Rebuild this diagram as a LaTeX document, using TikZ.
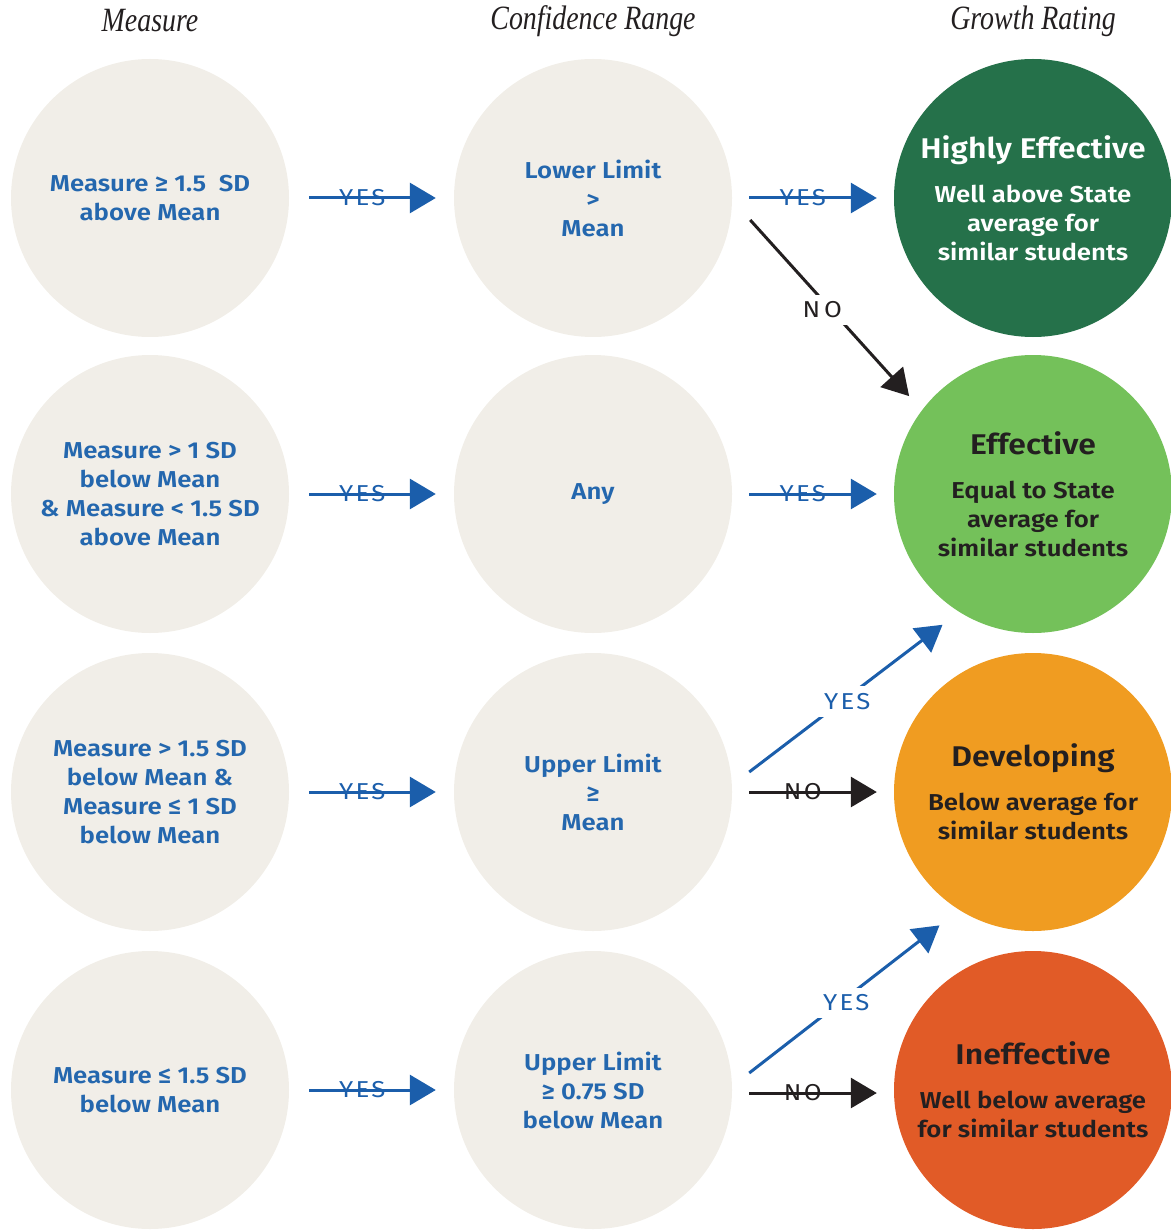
\documentclass[tikz,border=0pt]{standalone}
\usepackage{fontspec}
\usepackage{xcolor}
\usetikzlibrary{arrows.meta}
\setsansfont{Fira Sans}[BoldFont={Fira Sans SemiBold}, FakeStretch=1.12]
\newfontfamily\headfont{Liberation Serif}[FakeStretch=0.82]
\definecolor{RateBeige}{HTML}{F1EEE8}
\definecolor{RateBlue}{HTML}{2467AE}
\definecolor{ArrowBlue}{HTML}{1B5EAB}
\definecolor{RateBlack}{HTML}{231F20}
\definecolor{HighGreen}{HTML}{25714A}
\definecolor{EffGreen}{HTML}{74C15A}
\definecolor{DevOrange}{HTML}{F09C21}
\definecolor{IneffRed}{HTML}{E15B27}

\tikzset{
  heading/.style={font=\headfont\itshape\fontsize{34}{34}\selectfont, text=RateBlack},
  measure/.style={circle, fill=RateBeige, minimum size=278pt, inner sep=0pt, align=center,
    text=RateBlue, font=\sffamily\bfseries\fontsize{23}{29}\selectfont},
  rating/.style={circle, minimum size=278pt, inner sep=0pt, align=center,
    text=RateBlack, font=\sffamily\bfseries\fontsize{23}{29}\selectfont},
  yesarrow/.style={ArrowBlue, line width=3pt, -{Triangle[length=26pt,width=30pt]}},
  noarrow/.style={RateBlack, line width=3pt, -{Triangle[length=26pt,width=30pt]}},
  choice/.style={font=\sffamily\fontsize{23}{23}\selectfont\addfontfeatures{LetterSpace=10}, inner sep=1pt},
}
\newcommand{\ratingtitle}[1]{{\fontsize{28.5}{34}\selectfont #1}\\[15pt]}

\begin{document}
\begin{tikzpicture}[x=1pt, y=1pt]
    \useasboundingbox (0,0) rectangle (1170,-1230);
    % column headings
    \node[heading] (hmeasure) at (150,-21) {Measure};
    \node[heading] (hrange) at (593,-21) {Confidence Range};
    \node[heading] (hrating) at (1033,-21) {Growth Rating};

    % measure column
    \node[measure] (m1) at (150,-198) {Measure ≥ 1.5\ \ SD\\above Mean};
    \node[measure] (m2) at (150,-494) {Measure > 1 SD\\below Mean\\\& Measure < 1.5 SD\\above Mean};
    \node[measure] (m3) at (150,-792) {Measure > 1.5 SD\\below Mean \&\\Measure ≤ 1 SD\\below Mean};
    \node[measure] (m4) at (150,-1090) {Measure ≤ 1.5 SD\\below Mean};

    % confidence range column
    \node[measure] (c1) at (593,-198) {Lower Limit\\>\\Mean};
    \node[measure] (c2) at (593,-494) {Any};
    \node[measure] (c3) at (593,-792) {Upper Limit\\≥\\Mean};
    \node[measure] (c4) at (593,-1090) {Upper Limit\\≥ 0.75 SD\\below Mean};

    % growth rating column
    \node[rating, fill=HighGreen, text=white] (r1) at (1033,-198)
        {\ratingtitle{Highly Effective}Well above State\\average for\\similar students};
    \node[rating, fill=EffGreen] (r2) at (1033,-494)
        {\ratingtitle{Effective}Equal to State\\average for\\similar students};
    \node[rating, fill=DevOrange] (r3) at (1033,-792)
        {\ratingtitle{Developing}Below average for\\similar students};
    \node[rating, fill=IneffRed] (r4) at (1033,-1090)
        {\ratingtitle{Ineffective}Well below average\\for similar students};

    % measure -> confidence range
    \foreach \i in {1,...,4}
        \draw[yesarrow] ([xshift=20pt]m\i.east) -- node[choice, pos=0.42] {YES} ([xshift=-18pt]c\i.west);

    % confidence range -> rating
    \draw[yesarrow] ([xshift=17pt]c1.east) -- node[choice, pos=0.42] {YES} ([xshift=-17pt]r1.west);
    \draw[noarrow, shorten >=19pt] ([shift={(18pt,-22pt)}]c1.east) -- node[choice, fill=white, inner sep=7pt, pos=0.42, yshift=-10pt] {N\,O} (r2.143.5);
    \draw[yesarrow] ([xshift=17pt]c2.east) -- node[choice, pos=0.42] {YES} ([xshift=-17pt]r2.west);
    \draw[yesarrow, shorten >=21pt] ([shift={(17pt,20pt)}]c3.east) -- node[choice, fill=white, inner sep=7pt, pos=0.467, yshift=-4pt] {YES} (r2.238);
    \draw[noarrow] ([xshift=17pt]c3.east) -- node[choice, pos=0.42] {NO} ([xshift=-17pt]r3.west);
    \draw[yesarrow, shorten >=25pt] ([shift={(17pt,17pt)}]c4.east) -- node[choice, fill=white, inner sep=7pt, pos=0.462, yshift=-5pt] {YES} (r3.238.7);
    \draw[noarrow] ([shift={(17pt,-3pt)}]c4.east) -- node[choice, pos=0.42] {NO} ([shift={(-17pt,-3pt)}]r4.west);
\end{tikzpicture}
\end{document}
